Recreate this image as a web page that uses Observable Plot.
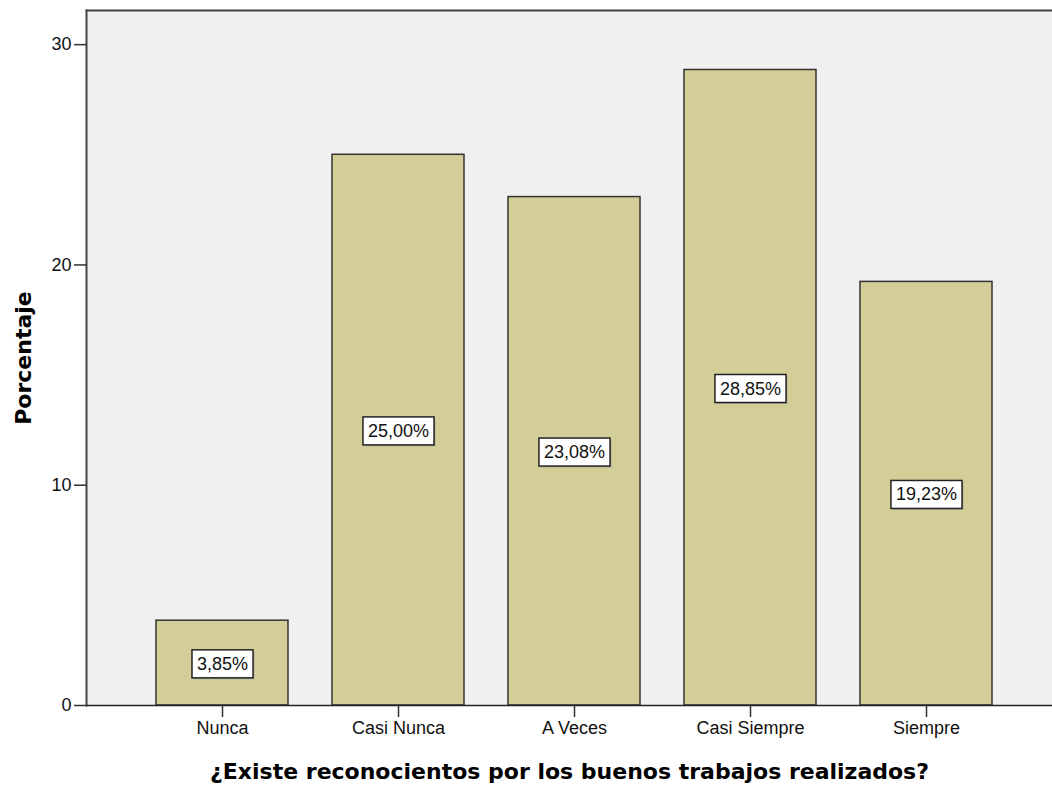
<!DOCTYPE html>
<html>
<head>
<meta charset="utf-8">
<script src="https://cdn.jsdelivr.net/npm/d3@7"></script>
<script src="https://cdn.jsdelivr.net/npm/@observablehq/plot@0.6"></script>
<style>
  html, body { margin: 0; padding: 0; background: #fff; }
  #chart svg { display: block; }
</style>
</head>
<body>
<div id="chart"></div>
<script>
const categories = ["Nunca", "Casi Nunca", "A Veces", "Casi Siempre", "Siempre"];
const values = [3.85, 25.00, 23.08, 28.85, 19.23];
const valueLabels = ["3,85%", "25,00%", "23,08%", "28,85%", "19,23%"];
const yTicks = [0, 10, 20, 30];
const xTitle = "¿Existe reconocientos por los buenos trabajos realizados?";
const yTitle = "Porcentaje";

const data = categories.map((c, i) => ({cat: c, value: values[i], label: valueLabels[i]}));
const yMax = 31.55;

const chart = Plot.plot({
  width: 1052,
  height: 785,
  marginLeft: 86,
  marginRight: 0,
  marginTop: 10,
  marginBottom: 80,
  style: {fontFamily: "'Liberation Sans', Arial, sans-serif", fontSize: "18px", color: "#111", background: "#fff"},
  x: {domain: categories, paddingInner: 0.25, paddingOuter: 0.369, align: 0.54},
  y: {domain: [0, yMax]},
  marks: [
    Plot.frame({fill: "#f0f0f0", stroke: null}),
    Plot.frame({anchor: "top", stroke: "#444", strokeWidth: 2}),
    Plot.frame({anchor: "left", stroke: "#444", strokeWidth: 2}),
    Plot.barY(data, {x: "cat", y: "value", fill: "#d3ce98", stroke: "#333", strokeWidth: 1.5}),
    Plot.ruleY([0], {stroke: "#222", strokeWidth: 1.5}),
    Plot.axisY({ticks: yTicks, tickSize: 12, tickPadding: 3, label: null, stroke: "#333", strokeWidth: 1.5, fontSize: 18}),
    Plot.axisX({tickSize: 12, tickPadding: 4, label: null, stroke: "#333", strokeWidth: 1.5, fontSize: 18}),
    Plot.text(data, {x: "cat", y: d => d.value / 2, dy: 1, text: "label", fill: "#111", fontSize: 18, className: "vlabel"}),
    Plot.text([xTitle], {frameAnchor: "bottom", lineAnchor: "bottom", textAnchor: "middle", dy: 73, fontFamily: "'DejaVu Sans', sans-serif", fontWeight: "bold", fontSize: 22, fill: "#000"}),
    Plot.text([yTitle], {frameAnchor: "left", textAnchor: "middle", lineAnchor: "middle", dx: -63, rotate: -90, fontFamily: "'DejaVu Sans', sans-serif", fontWeight: "bold", fontSize: 22, fill: "#000"})
  ]
});
document.getElementById("chart").appendChild(chart);

// white boxes behind the value labels, sized from the rendered text
d3.select(chart).selectAll("g.vlabel text").each(function() {
  const bb = this.getBBox();
  const padX = 5, padY = 4;
  const g = this.parentNode;
  const t = this.getAttribute("transform");
  d3.select(g).insert("rect", () => this)
    .attr("x", bb.x - padX + 1.5).attr("y", bb.y - padY + 1.5)
    .attr("width", bb.width + 2 * padX).attr("height", bb.height + 2 * padY)
    .attr("transform", t)
    .attr("fill", "#999").attr("stroke", "none").attr("opacity", 0.6);
  d3.select(g).insert("rect", () => this)
    .attr("x", bb.x - padX).attr("y", bb.y - padY)
    .attr("width", bb.width + 2 * padX).attr("height", bb.height + 2 * padY)
    .attr("transform", t)
    .attr("fill", "#fff").attr("stroke", "#222").attr("stroke-width", 1.5);
});
</script>
</body>
</html>
